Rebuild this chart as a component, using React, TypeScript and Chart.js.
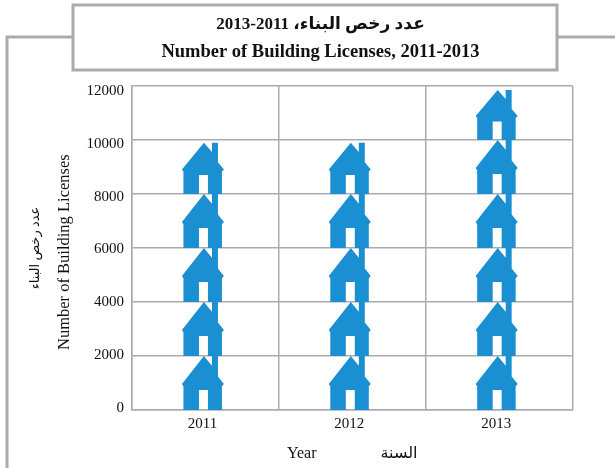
import React, { useEffect, useRef } from "react";
import { Chart, registerables } from "chart.js";

Chart.register(...registerables);

const categories = ["2011", "2012", "2013"];
const licenses = [9900, 9900, 11850];
const tickValues = [0, 2000, 4000, 6000, 8000, 10000, 12000];
const titleArabic = "عدد رخص البناء، 2011-2013";
const titleEnglish = "Number of Building Licenses, 2011-2013";
const yTitleArabic = "عدد رخص البناء";
const yTitleEnglish = "Number of Building Licenses  ";
const xTitle = "Year                السنة";

const GREY = "#a9abae";
const BLUE = "#1a8fd1";
const SERIF = "'Liberation Serif', 'DejaVu Sans', serif";
const HOUSE_STEP = 2000;

const framePlugin = {
  id: "frame",
  beforeDraw(chart: any) {
    const c = chart.ctx;
    c.save();
    c.fillStyle = "#fff";
    c.fillRect(0, 0, chart.width, chart.height);
    c.strokeStyle = GREY;
    c.lineWidth = 3;
    c.beginPath();
    c.moveTo(7, 468);
    c.lineTo(7, 37);
    c.lineTo(615, 37);
    c.stroke();
    c.fillRect(73, 5, 484, 65);
    c.strokeRect(73, 5, 484, 65);
    c.restore();
  },
};

// Draws each bar as a column of houses, one per HOUSE_STEP of value.
const housePlugin = {
  id: "houses",
  afterDatasetsDraw(chart: any) {
    const c = chart.ctx;
    const y = chart.scales.y;
    const meta = chart.getDatasetMeta(0);
    const values = chart.data.datasets[0].data;
    c.save();
    c.fillStyle = BLUE;
    meta.data.forEach((bar: any, i: number) => {
      const cx = bar.x - 1.5;
      for (let lo = 0; lo < values[i]; lo += HOUSE_STEP) {
        const base = y.getPixelForValue(lo);
        const top = y.getPixelForValue(Math.min(values[i], lo + HOUSE_STEP));
        const h = base - top;
        const py = (f: number) => base - f * h;
        c.beginPath();
        c.moveTo(cx - 20.5, base);
        c.lineTo(cx - 20.5, py(0.44));
        c.lineTo(cx - 22, py(0.48));
        c.lineTo(cx, py(1));
        c.lineTo(cx + 8, py(0.82));
        c.lineTo(cx + 8, py(1));
        c.lineTo(cx + 14, py(1));
        c.lineTo(cx + 14, py(0.62));
        c.lineTo(cx + 20, py(0.48));
        c.lineTo(cx + 18, py(0.44));
        c.lineTo(cx + 18, base);
        c.lineTo(cx + 4, base);
        c.lineTo(cx + 4, py(0.37));
        c.lineTo(cx - 5, py(0.37));
        c.lineTo(cx - 5, base);
        c.closePath();
        c.fill();
      }
    });
    c.restore();
  },
};

export default function App() {
  const ref = useRef<HTMLCanvasElement>(null);
  useEffect(() => {
    const chart = new Chart(ref.current as HTMLCanvasElement, {
      type: "bar",
      data: {
        labels: categories,
        datasets: [
          {
            label: "Number of Building Licenses",
            data: licenses,
            backgroundColor: "rgba(0,0,0,0)",
            barThickness: 42,
            yAxisID: "y",
          },
        ],
      },
      plugins: [framePlugin, housePlugin],
      options: {
        animation: false,
        responsive: false,
        layout: { padding: { left: 26, right: 0, top: 0, bottom: 0 } },
        plugins: {
          legend: { display: false },
          tooltip: { enabled: false },
          title: {
            display: true,
            text: titleArabic,
            color: "#111",
            font: { family: SERIF, size: 17, weight: "bold", lineHeight: 1.2 },
            padding: { top: 14, bottom: 6.6 },
          },
          subtitle: {
            display: true,
            text: titleEnglish,
            color: "#111",
            font: { family: SERIF, size: 18.5, weight: "bold", lineHeight: 1.2 },
            padding: { top: 0, bottom: 22.8 },
          },
        },
        scales: {
          x: {
            offset: true,
            grid: { color: GREY, lineWidth: 1.5, drawTicks: false, offset: true },
            border: { color: GREY, width: 1.5 },
            ticks: {
              color: "#111",
              font: { family: SERIF, size: 15 },
              padding: 5,
              maxRotation: 0,
              labelOffset: -3,
            },
            title: {
              display: true,
              text: xTitle,
              color: "#111",
              font: { family: SERIF, size: 16 },
              padding: { top: 0, bottom: 5 },
            },
            afterFit(s: any) {
              s.height = 58;
            },
          },
          y: {
            position: "left",
            weight: 0,
            min: 0,
            max: 12000,
            grid: { color: GREY, lineWidth: 1.5, drawTicks: false },
            border: { color: GREY, width: 1.5 },
            ticks: { display: false, stepSize: HOUSE_STEP },
            afterFit(s: any) {
              s.width = 0;
            },
          },
          yLabels: {
            position: "left",
            weight: 5,
            min: -114,
            max: 12151,
            grid: { display: false, drawTicks: false },
            border: { display: false },
            ticks: {
              color: "#111",
              font: { family: SERIF, size: 15 },
              padding: 8,
              labelOffset: 1,
              autoSkip: false,
              callback: (v: any) => String(v),
            },
            afterBuildTicks(s: any) {
              s.ticks = tickValues.map((value) => ({ value }));
            },
            title: {
              display: true,
              text: yTitleEnglish,
              color: "#111",
              font: { family: SERIF, size: 16.5 },
              padding: { top: 11, bottom: 0 },
            },
            afterFit(s: any) {
              s.width = 88;
            },
          },
          yArabic: {
            position: "left",
            weight: 10,
            display: true,
            grid: { display: false, drawTicks: false },
            border: { display: false },
            ticks: { display: false },
            title: {
              display: true,
              text: yTitleArabic,
              color: "#111",
              font: { family: SERIF, size: 13 },
              padding: { top: 2, bottom: 0 },
            },
            afterFit(s: any) {
              s.width = 18;
            },
          },
          rightGap: {
            position: "right",
            display: true,
            grid: { display: false, drawTicks: false },
            border: { display: false },
            ticks: { display: false },
            afterFit(s: any) {
              s.width = 42.4;
            },
          },
        },
      } as any,
    });
    return () => chart.destroy();
  }, []);
  return (
    <div style={{ position: "absolute", left: 0, top: 0, width: 615, height: 468, overflow: "hidden" }}>
      <canvas ref={ref} width={615} height={468} style={{ display: "block" }} />
    </div>
  );
}
